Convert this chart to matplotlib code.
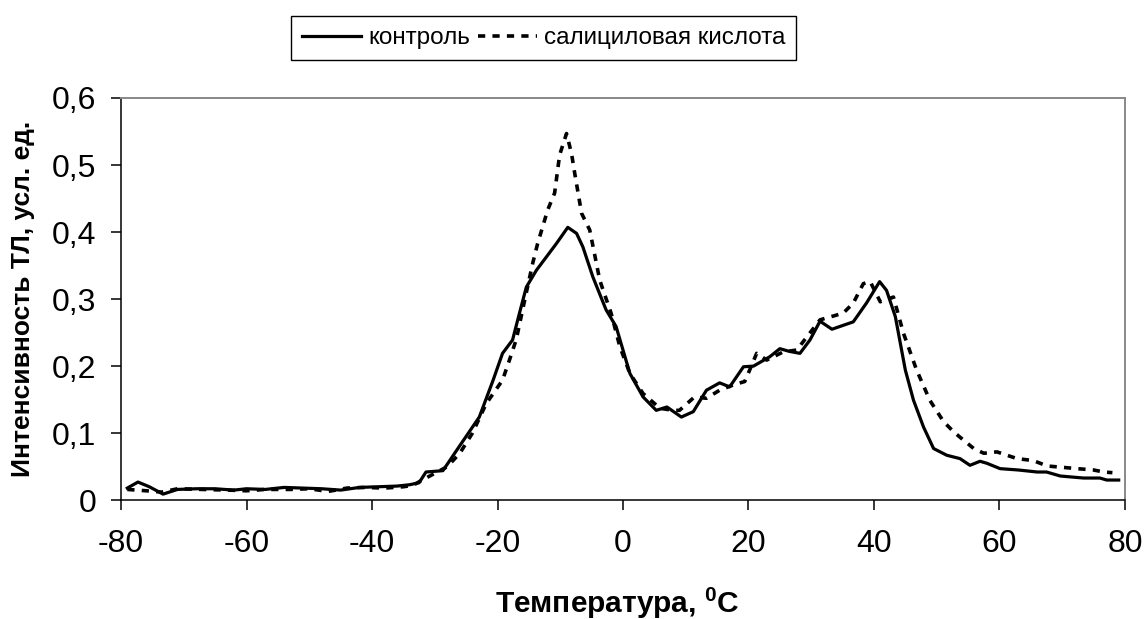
import numpy as np
import matplotlib.pyplot as plt

plt.rcParams['font.family'] = ['Liberation Sans', 'DejaVu Sans']
plt.rcParams['mathtext.fontset'] = 'custom'
plt.rcParams['mathtext.rm'] = 'Liberation Sans:bold'
plt.rcParams['mathtext.it'] = 'Liberation Sans:bold'
plt.rcParams['mathtext.bf'] = 'Liberation Sans:bold'

# контроль
t_control = [-79, -77.3, -75.5, -73.3, -71, -68, -65, -62, -60, -57, -54, -51, -48, -45,
             -42, -39, -36, -34, -32.5, -31.4, -28.7, -26.1, -22.9, -20.7, -19.2, -17.6,
             -16.5, -15.4, -13.8, -10.6, -8.8, -7.4, -6.4, -4.8, -2.7, -1.1, 1.1, 3.2, 5.3,
             7.0, 9.3, 11.2, 13.3, 15.4, 17.0, 19.2, 20.8, 23.4, 25.0, 26.5, 28.2, 29.8,
             31.4, 33.3, 36.7, 38.8, 40.9, 42.0, 43.4, 45.0, 46.3, 47.9, 49.5, 51.6, 53.7,
             55.3, 56.9, 58.0, 60.1, 63.0, 66.0, 67.5, 69.7, 73.4, 76.0, 77.1, 79.0]
i_control = [0.018, 0.027, 0.020, 0.009, 0.016, 0.017, 0.017, 0.015, 0.017, 0.016, 0.019,
             0.018, 0.017, 0.015, 0.019, 0.020, 0.021, 0.023, 0.026, 0.042, 0.044, 0.080,
             0.124, 0.179, 0.219, 0.239, 0.279, 0.318, 0.343, 0.383, 0.407, 0.398, 0.378,
             0.333, 0.284, 0.259, 0.189, 0.154, 0.134, 0.139, 0.124, 0.132, 0.164, 0.175,
             0.169, 0.199, 0.200, 0.214, 0.226, 0.222, 0.219, 0.239, 0.267, 0.255, 0.266,
             0.294, 0.326, 0.313, 0.274, 0.194, 0.149, 0.109, 0.077, 0.067, 0.062, 0.052,
             0.058, 0.055, 0.047, 0.045, 0.042, 0.042, 0.036, 0.033, 0.033, 0.030, 0.030]

# салициловая кислота
t_salicylic = [-79, -76, -73.5, -71, -67, -63, -60, -57, -53, -50, -47, -44, -41, -38, -35,
               -33.5, -32, -30, -28, -26, -24, -21.8, -19.2, -18.1, -17.0, -16.0, -14.4,
               -13.6, -12.0, -10.9, -10.1, -9.0, -8.2, -7.7, -6.6, -5.3, -3.7, -1.9, -0.5,
               1.1, 3.2, 5.9, 8.0, 9.0, 11.4, 13.3, 15.4, 17.6, 19.4, 20.0, 21.3, 22.9, 25.5,
               27.7, 31.4, 35.1, 36.7, 38.3, 39.4, 41.0, 43.1, 44.7, 46.8, 48.9, 51.1, 52.7,
               53.7, 55.9, 57.5, 59.6, 62.8, 65.4, 67.6, 72.4, 75.0, 76.6, 78.0]
i_salicylic = [0.016, 0.014, 0.012, 0.017, 0.016, 0.015, 0.014, 0.016, 0.016, 0.017, 0.013,
               0.018, 0.019, 0.018, 0.020, 0.022, 0.030, 0.040, 0.050, 0.070, 0.100, 0.144,
               0.179, 0.209, 0.240, 0.284, 0.353, 0.383, 0.433, 0.458, 0.515, 0.547, 0.517,
               0.488, 0.428, 0.403, 0.328, 0.279, 0.229, 0.189, 0.159, 0.137, 0.134, 0.134,
               0.154, 0.152, 0.164, 0.172, 0.177, 0.190, 0.219, 0.209, 0.221, 0.224, 0.269,
               0.279, 0.294, 0.323, 0.326, 0.296, 0.303, 0.249, 0.194, 0.149, 0.117, 0.102,
               0.094, 0.077, 0.070, 0.072, 0.062, 0.059, 0.051, 0.047, 0.045, 0.042, 0.041]

x_ticks = [-80, -60, -40, -20, 0, 20, 40, 60, 80]
y_ticks = [0, 0.1, 0.2, 0.3, 0.4, 0.5, 0.6]
y_tick_labels = ['0', '0,1', '0,2', '0,3', '0,4', '0,5', '0,6']

fig = plt.figure(figsize=(11.45, 6.19), dpi=100)
ax = fig.add_axes([0.1057, 0.192, 0.8768, 0.6497])

l1, = ax.plot(t_control, i_control, color='black', lw=2.3, label='контроль')
l2, = ax.plot(t_salicylic, i_salicylic, color='black', lw=2.6, ls=(0, (2.0, 2.0)),
              label='салициловая кислота')

ax.set_xlim(-80, 80)
ax.set_ylim(0, 0.6)
ax.set_xticks(x_ticks)
ax.set_xticklabels([str(v) for v in x_ticks])
ax.set_yticks(y_ticks)
ax.set_yticklabels(y_tick_labels)
ax.tick_params(direction='out', length=7, width=1.1, labelsize=23, color='black')
ax.tick_params(axis='x', pad=14)
ax.tick_params(axis='y', pad=11)

for s in ['left', 'bottom']:
    ax.spines[s].set_color('black')
    ax.spines[s].set_linewidth(1.1)
for s in ['top', 'right']:
    ax.spines[s].set_color('#888888')
    ax.spines[s].set_linewidth(1.4)

# x label placed by its baseline so the descenders stay inside the figure
fig.text(0.539, 0.0105, 'Температура, $^0$C', fontsize=21.5, fontweight='bold',
         ha='center', va='baseline')
ax.set_ylabel('Интенсивность ТЛ, усл. ед.', fontsize=19, fontweight='bold', labelpad=12)

leg = fig.legend(handles=[l1, l2], loc='center', bbox_to_anchor=(0.475, 0.9386), ncol=2,
                 frameon=True, fancybox=False, edgecolor='black', framealpha=1,
                 handlelength=2.4, handletextpad=0.3, columnspacing=0.35,
                 borderpad=0.45, borderaxespad=0, fontsize=17.5)
leg.get_frame().set_linewidth(1.0)

fig.savefig('out.png', dpi=100)
